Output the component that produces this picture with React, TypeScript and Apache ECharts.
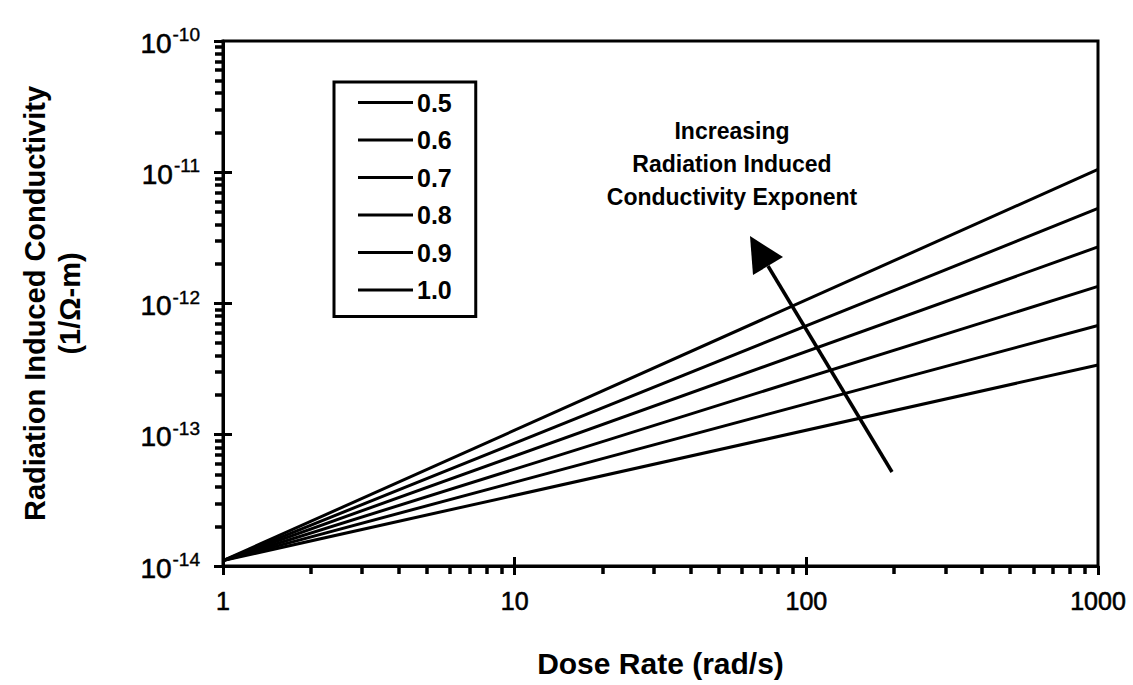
import React, { useEffect, useRef } from "react";
import * as echarts from "echarts";

const exponents = ["0.5", "0.6", "0.7", "0.8", "0.9", "1.0"];
const doseRates = [1, 1000];
const startValues = [1.1e-14, 1.1e-14, 1.1e-14, 1.1e-14, 1.1e-14, 1.1e-14];
const endValues = [3.4e-13, 6.8e-13, 1.35e-12, 2.7e-12, 5.3e-12, 1.05e-11];

const xMajorCross = [10, 100];
const xMinor = [2, 3, 4, 5, 6, 7, 8, 9, 20, 30, 40, 50, 60, 70, 80, 90, 200, 300, 400, 500, 600, 700, 800, 900];
const yMajorCross = [1e-13, 1e-12, 1e-11];
const yMinor = [
  2e-14, 3e-14, 4e-14, 5e-14, 6e-14, 7e-14, 8e-14, 9e-14,
  2e-13, 3e-13, 4e-13, 5e-13, 6e-13, 7e-13, 8e-13, 9e-13,
  2e-12, 3e-12, 4e-12, 5e-12, 6e-12, 7e-12, 8e-12, 9e-12,
  2e-11, 3e-11, 4e-11, 5e-11, 6e-11, 7e-11, 8e-11, 9e-11,
];

const annotationLines = ["Increasing", "Radiation Induced", "Conductivity Exponent"];

const FONT = '"Liberation Sans", Arial, Helvetica, sans-serif';

export default function App() {
  const ref = useRef<HTMLDivElement>(null);

  useEffect(() => {
    if (!ref.current) return;
    const chart = echarts.init(ref.current, null, { renderer: "svg" });

    const baseX = { type: "log", logBase: 10, min: 1, max: 1000, gridIndex: 0, position: "bottom" };
    const baseY = { type: "log", logBase: 10, min: 1e-14, max: 1e-10, gridIndex: 0, position: "left" };
    const tickLine = { color: "#000", width: 3 };
    const minorLine = { color: "#000", width: 3.5 };

    const option: any = {
      animation: false,
      backgroundColor: "#fff",
      textStyle: { fontFamily: FONT },
      grid: {
        left: 223,
        right: 35,
        top: 41,
        bottom: 119,
        containLabel: false,
        show: true,
        borderColor: "#000",
        borderWidth: 3,
        backgroundColor: "transparent",
      },
      legend: {
        show: true,
        orient: "vertical",
        left: 334,
        top: 82,
        data: exponents,
        icon: "rect",
        itemWidth: 55,
        itemHeight: 3,
        itemGap: 12.5,
        selectedMode: false,
        borderColor: "#000",
        borderWidth: 3,
        padding: [8, 24, 14, 24],
        textStyle: { color: "#000", fontSize: 25, fontWeight: "bold", fontFamily: FONT, lineHeight: 25, padding: [0, 0, 0, -1] },
      },
      xAxis: [
        {
          ...baseX,
          name: "Dose Rate (rad/s)",
          nameLocation: "middle",
          nameGap: 82,
          nameTextStyle: { color: "#000", fontSize: 30, fontWeight: "bold", fontFamily: FONT },
          axisLine: { show: true, lineStyle: { color: "#000", width: 3 } },
          axisTick: { show: true, inside: false, length: 9, lineStyle: tickLine },
          minorTick: { show: false },
          splitLine: { show: false },
          axisLabel: {
            show: true,
            margin: 22,
            color: "#000",
            fontSize: 25,
            fontFamily: FONT,
            textBorderColor: "#000",
            textBorderWidth: 0.6,
            formatter: (v: number) => String(Math.round(v)),
          },
        },
        {
          ...baseX,
          axisLine: { show: false },
          axisTick: { show: true, inside: true, length: 9, lineStyle: tickLine, customValues: xMajorCross },
          axisLabel: { show: false },
          splitLine: { show: false },
        },
        {
          ...baseX,
          axisLine: { show: false },
          axisTick: { show: true, inside: false, length: 8, lineStyle: minorLine, customValues: xMinor },
          axisLabel: { show: false },
          splitLine: { show: false },
        },
      ],
      yAxis: [
        {
          ...baseY,
          name: "Radiation Induced Conductivity\n(1/Ω-m)",
          nameLocation: "middle",
          nameGap: 136,
          nameTextStyle: { color: "#000", fontSize: 29, fontWeight: "bold", fontFamily: FONT, lineHeight: 35 },
          axisLine: { show: true, lineStyle: { color: "#000", width: 3 } },
          axisTick: { show: true, inside: false, length: 9, lineStyle: tickLine },
          minorTick: { show: false },
          splitLine: { show: false },
          axisLabel: {
            show: true,
            margin: 23,
            color: "#000",
            fontFamily: FONT,
            formatter: (v: number) => `{b|10}{s|${Math.round(Math.log10(v))}}`,
            rich: {
              b: { fontSize: 28, color: "#000", fontFamily: FONT, verticalAlign: "bottom", lineHeight: 32, textBorderColor: "#000", textBorderWidth: 0.6 },
              s: { fontSize: 19, color: "#000", fontFamily: FONT, verticalAlign: "bottom", lineHeight: 32, padding: [0, 0, 13, 1], textBorderColor: "#000", textBorderWidth: 0.4 },
            },
          },
        },
        {
          ...baseY,
          axisLine: { show: false },
          axisTick: { show: true, inside: true, length: 9, lineStyle: tickLine, customValues: yMajorCross },
          axisLabel: { show: false },
          splitLine: { show: false },
        },
        {
          ...baseY,
          axisLine: { show: false },
          axisTick: { show: true, inside: false, length: 8, lineStyle: minorLine, customValues: yMinor },
          axisLabel: { show: false },
          splitLine: { show: false },
        },
      ],
      series: exponents.map((name, i) => ({
        name,
        type: "line",
        xAxisIndex: 0,
        yAxisIndex: 0,
        symbol: "none",
        lineStyle: { color: "#000", width: 3 },
        itemStyle: { color: "#000" },
        data: doseRates.map((x, j) => [x, j === 0 ? startValues[i] : endValues[i]]),
        z: 3,
      })),
      graphic: [
        {
          type: "text",
          left: 732 - 150,
          top: 114,
          style: {
            text: annotationLines.join("\n"),
            fill: "#000",
            font: `bold 23px ${FONT}`,
            textAlign: "center",
            lineHeight: 33,
            width: 300,
          },
        },
        {
          type: "line",
          shape: { x1: 892, y1: 472, x2: 768, y2: 266 },
          style: { stroke: "#000", lineWidth: 3.5 },
          z: 10,
        },
        {
          type: "polygon",
          shape: { points: [[750, 236], [783, 257], [753, 275]] },
          style: { fill: "#000" },
          z: 10,
        },
      ],
    };

    chart.setOption(option);
    return () => chart.dispose();
  }, []);

  return <div ref={ref} style={{ position: "fixed", left: 0, top: 0, width: 1133, height: 685 }} />;
}
